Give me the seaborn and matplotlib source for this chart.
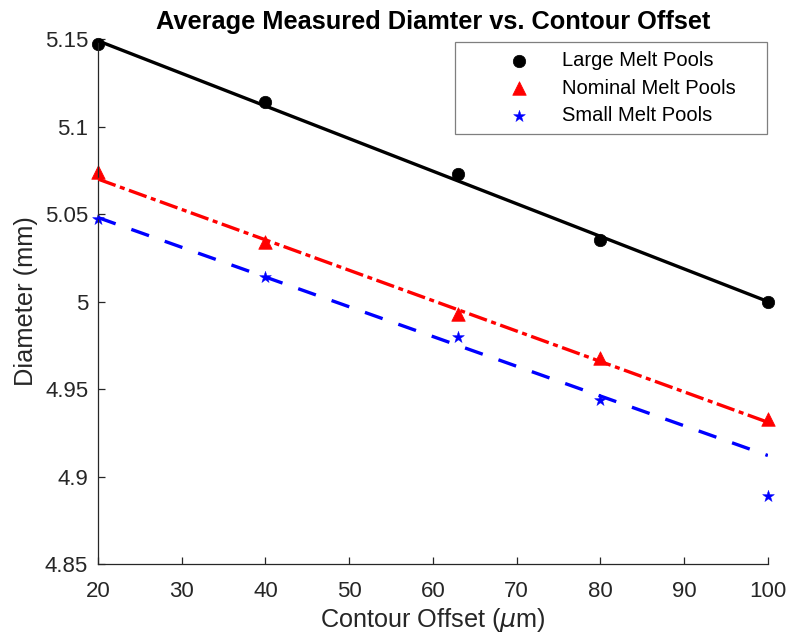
import matplotlib
matplotlib.use("Agg")
import matplotlib.pyplot as plt
import seaborn as sns
import pandas as pd
from matplotlib.collections import PathCollection
from matplotlib.legend_handler import HandlerPathCollection

# ---- data ----
offset = [20, 40, 63, 80, 100]
large = [5.147, 5.114, 5.073, 5.035, 5.000]
nominal = [5.074, 5.034, 4.993, 4.968, 4.933]
small = [5.047, 5.014, 4.980, 4.944, 4.889]

fit_x = [20, 100]
large_fit = [5.149, 5.000]
nominal_fit = [5.070, 4.931]
small_fit = [5.048, 4.912]

x_ticks = [20, 30, 40, 50, 60, 70, 80, 90, 100]
y_ticks = [4.85, 4.9, 4.95, 5.0, 5.05, 5.1, 5.15]
y_tick_labels = ["4.85", "4.9", "4.95", "5", "5.05", "5.1", "5.15"]

sns.set_theme(style="ticks")
plt.rcParams["font.family"] = ["Liberation Sans", "DejaVu Sans"]
plt.rcParams["mathtext.fontset"] = "dejavusans"
plt.rcParams["lines.scale_dashes"] = False

TXT = "#262626"

fig = plt.figure(figsize=(7.9, 6.34), dpi=100)
ax = fig.add_axes([0.124, 0.1104, 0.848, 0.828])

df_pts = pd.DataFrame({"x": offset, "large": large, "nominal": nominal, "small": small})
df_fit = pd.DataFrame({"x": fit_x, "large": large_fit, "nominal": nominal_fit, "small": small_fit})

# data points (drawn below the fit lines)
sns.scatterplot(data=df_pts, x="x", y="large", ax=ax, marker="o", color="black",
                s=80, edgecolor="black", linewidth=0.5, label="Large Melt Pools",
                clip_on=False, zorder=2)
sns.scatterplot(data=df_pts, x="x", y="nominal", ax=ax, marker="^", color="#ff0000",
                s=95, edgecolor="#ff0000", linewidth=0.5, label="Nominal Melt Pools",
                clip_on=False, zorder=2)
sns.scatterplot(data=df_pts, x="x", y="small", ax=ax, marker="*", color="#0000ff",
                s=80, edgecolor="#0000ff", linewidth=0.3, label="Small Melt Pools",
                clip_on=False, zorder=2)

# fit lines
sns.lineplot(data=df_fit, x="x", y="large", ax=ax, color="black", lw=2.4,
             linestyle="-", legend=False, zorder=3)
sns.lineplot(data=df_fit, x="x", y="nominal", ax=ax, color="#ff0000", lw=2.4,
             linestyle=(0, (13.5, 3.3, 3.6, 3.3)), legend=False, zorder=3)
sns.lineplot(data=df_fit, x="x", y="small", ax=ax, color="#0000ff", lw=2.4,
             linestyle=(0, (13.5, 12.0)), legend=False, zorder=3)

ax.set_xlim(20, 100)
ax.set_ylim(4.85, 5.15)
ax.set_xticks(x_ticks)
ax.set_xticklabels([str(v) for v in x_ticks])
ax.set_yticks(y_ticks)
ax.set_yticklabels(y_tick_labels)

for s in ["top", "right"]:
    ax.spines[s].set_visible(False)
for s in ["left", "bottom"]:
    ax.spines[s].set_color(TXT)
    ax.spines[s].set_linewidth(0.9)

ax.tick_params(direction="in", length=5, width=0.9, colors=TXT, labelsize=16)
ax.tick_params(axis="x", pad=12.5)
ax.tick_params(axis="y", pad=7)

ax.set_xlabel(r"Contour Offset ($\mu$m)", fontsize=18.2, color=TXT, labelpad=2.5)
ax.set_ylabel("Diameter (mm)", fontsize=18.3, color=TXT, labelpad=5)
ax.set_title("Average Measured Diamter vs. Contour Offset", fontsize=18.3,
             fontweight="bold", color="black", pad=7)

fs_leg = 14.5
handles, labels = ax.get_legend_handles_labels()
leg = ax.legend(handles, labels, loc="upper left",
                bbox_to_anchor=(0.5328, 0.0, 0.4657, 0.9943), mode="expand",
                fontsize=fs_leg, frameon=True, fancybox=False, edgecolor="#7f7f7f",
                framealpha=1, handlelength=4.5, handletextpad=0.35, borderpad=0.45,
                labelspacing=0.42, borderaxespad=0.0,
                handler_map={PathCollection: HandlerPathCollection(xpad=1.0)})
leg.get_frame().set_linewidth(0.9)
for t in leg.get_texts():
    t.set_color("black")

fig.savefig("out.png", dpi=100)
